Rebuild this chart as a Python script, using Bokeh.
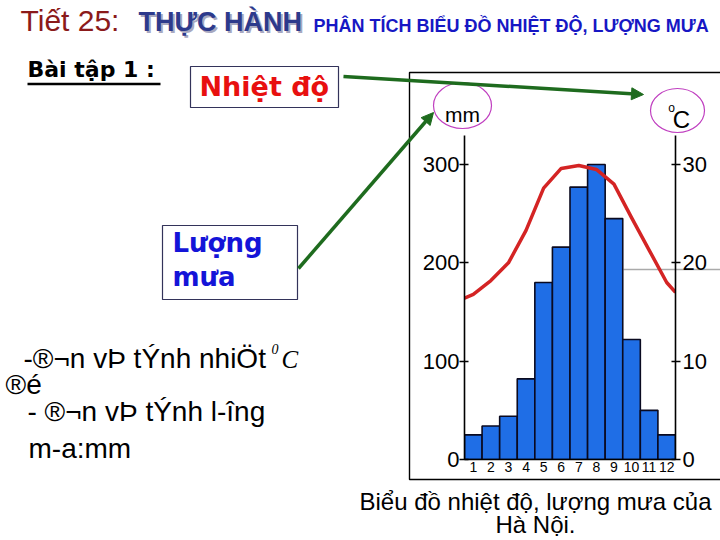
from bokeh.plotting import figure
from bokeh.models import Range1d, LinearAxis, Arrow, NormalHead, FixedTicker
from bokeh.core.properties import value
from bokeh.embed import file_html
from bokeh.resources import INLINE

# ---------------- data ----------------
months = [1, 2, 3, 4, 5, 6, 7, 8, 9, 10, 11, 12]
month_labels = [str(m) for m in months]
rain_mm = [25, 34, 44, 82, 180, 216, 277, 300, 245, 122, 50, 25]
temp_c = [16.8, 18.2, 20.0, 23.3, 27.6, 29.6, 29.9, 29.5, 28.0, 24.6, 21.3, 18.0]
temp_at_left_axis = 16.4
temp_at_right_axis = 17.0
rain_ticks = [0, 100, 200, 300]
temp_ticks = [0, 10, 20, 30]

SANS = "Liberation Sans"
W, H = 720, 540
OVERLAY = {"position": "absolute", "left": "0px", "top": "0px"}

# ---------------- slide layer (pixel coordinates) ----------------
s = figure(width=W, height=H, output_backend="svg", toolbar_location=None,
           x_range=Range1d(0, W), y_range=Range1d(H, 0),
           min_border=0, x_axis_location=None, y_axis_location=None,
           styles=OVERLAY)
s.outline_line_color = None
s.xgrid.grid_line_color = None
s.ygrid.grid_line_color = None
s.background_fill_color = "white"
s.border_fill_color = "white"


def lab(text, X, Y, size, color="black", font=SANS, style="normal",
        align="left"):
    # Y is the wanted baseline; compensate the renderer's baseline offset
    s.text(x=[X], y=[Y - 0.39 * size], text=[text], text_font=value(font),
           text_font_size=value(f"{size}px"), text_color=color,
           text_font_style=style, text_align=align,
           text_baseline="alphabetic")


def box(l, t, r, b, color, width=1.2):
    s.quad(left=[l], right=[r], top=[t], bottom=[b], fill_alpha=0,
           line_color=color, line_width=width)


def seg(x0, y0, x1, y1, color, width):
    s.segment(x0=[x0], y0=[y0], x1=[x1], y1=[y1], line_color=color,
              line_width=width)


def arrow(x0, y0, x1, y1, color, width):
    s.add_layout(Arrow(x_start=x0, y_start=y0, x_end=x1, y_end=y1,
                       line_color=color, line_width=width, start=None,
                       end=NormalHead(size=12, fill_color=color,
                                      line_color=color)))


# title
lab("Tiết 25:", 20, 32, 30, color="#8b1a1a")
lab("THỰC HÀNH", 140, 34, 27, color="#a8a8c0", style="bold")
lab("THỰC HÀNH", 138, 32, 27, color="#2d3a8c", style="bold")
lab("PHÂN TÍCH BIỂU ĐỒ NHIỆT ĐỘ, LƯỢNG MƯA", 313, 33, 18, color="#1717c4",
    style="bold")

# exercise
lab("Bài tập 1 :", 27, 78, 22, font="DejaVu Sans", style="bold")
seg(27, 83.5, 160, 83.5, "black", 2.5)

box(190, 66, 338, 107, "#33335a")
lab("Nhiệt độ", 199, 97, 27, color="#e8100f", font="DejaVu Sans", style="bold")
box(162, 225, 297, 299, "#33335a")
lab("Lượng", 172, 253, 26, color="#1414d8", font="DejaVu Sans", style="bold")
lab("mưa", 172, 287, 26, color="#1414d8", font="DejaVu Sans", style="bold")

# left notes
lab("-®¬n vÞ tÝnh nhiÖt", 23, 369, 28)
lab("0", 271, 354, 14, font="Liberation Serif", style="italic")
lab("C", 281, 369, 25, font="Liberation Serif", style="italic")
lab("®é", 5, 395, 28)
lab("- ®¬n vÞ tÝnh l-îng", 27, 422, 28)
lab("m-a:mm", 28, 459, 28)

# chart frame border
box(409, 72, 740, 479, "black", 1.4)
seg(623, 269, 720, 269, "#aaaaaa", 1.5)

# unit labels and ellipses
lab("mm", 462, 122, 21, align="center")
lab("o", 671, 112, 12, align="center")
lab("C", 681, 128, 24, align="center")
s.ellipse(x=[462, 677], y=[105, 110], width=[58, 54], height=[46, 44],
          fill_alpha=0, line_color="#c040c0", line_width=1.2)

# arrows
arrow(343, 76, 643, 94, "#1e6b1e", 3.5)
arrow(298, 268, 433, 112, "#1e6b1e", 3.5)

# caption
lab("Biểu đồ nhiệt độ, lượng mưa của", 535, 510, 24, align="center")
lab("Hà Nội.", 535, 533, 24, align="center")

# ---------------- chart layer ----------------
p = figure(width=W, height=H, output_backend="svg", toolbar_location=None,
           x_range=Range1d(0.5, 12.5), y_range=Range1d(0, 329.5),
           min_border_left=464, min_border_right=45,
           min_border_top=135, min_border_bottom=81, styles=OVERLAY)
p.extra_y_ranges = {"temp": Range1d(0, 32.95)}
p.outline_line_color = None
p.xgrid.grid_line_color = None
p.ygrid.grid_line_color = None
p.background_fill_color = None
p.border_fill_color = None

p.vbar(x=months, top=rain_mm, width=1.0, bottom=0,
       fill_color="#1f6ee6", line_color="#0a0a20", line_width=1.6)
p.line(x=[0.5] + months + [12.5],
       y=[temp_at_left_axis] + temp_c + [temp_at_right_axis],
       y_range_name="temp", line_color="#d42424", line_width=3.5,
       line_join="round")

yl = p.yaxis[0]
yl.ticker = FixedTicker(ticks=rain_ticks)
yr = LinearAxis(y_range_name="temp", ticker=FixedTicker(ticks=temp_ticks))
p.add_layout(yr, "right")
for ax, standoff in ((yl, 0), (yr, 2)):
    ax.minor_tick_line_color = None
    ax.major_tick_in = 4
    ax.major_tick_out = 5
    ax.major_label_standoff = standoff
    ax.axis_line_width = 1.6
    ax.major_tick_line_width = 1.6
    ax.major_label_text_font = SANS
    ax.major_label_text_font_size = "22px"
    ax.major_label_text_color = "black"

xa = p.xaxis[0]
xa.ticker = FixedTicker(ticks=months)
xa.major_label_overrides = {m: l for m, l in zip(months, month_labels)}
xa.minor_tick_line_color = None
xa.major_tick_line_color = None
xa.major_tick_in = 0
xa.major_tick_out = 0
xa.major_label_standoff = 2
xa.axis_line_width = 1.6
xa.major_label_text_font = SANS
xa.major_label_text_font_size = "14px"
xa.major_label_text_color = "black"

open("out.html", "w").write(file_html([s, p], INLINE))
